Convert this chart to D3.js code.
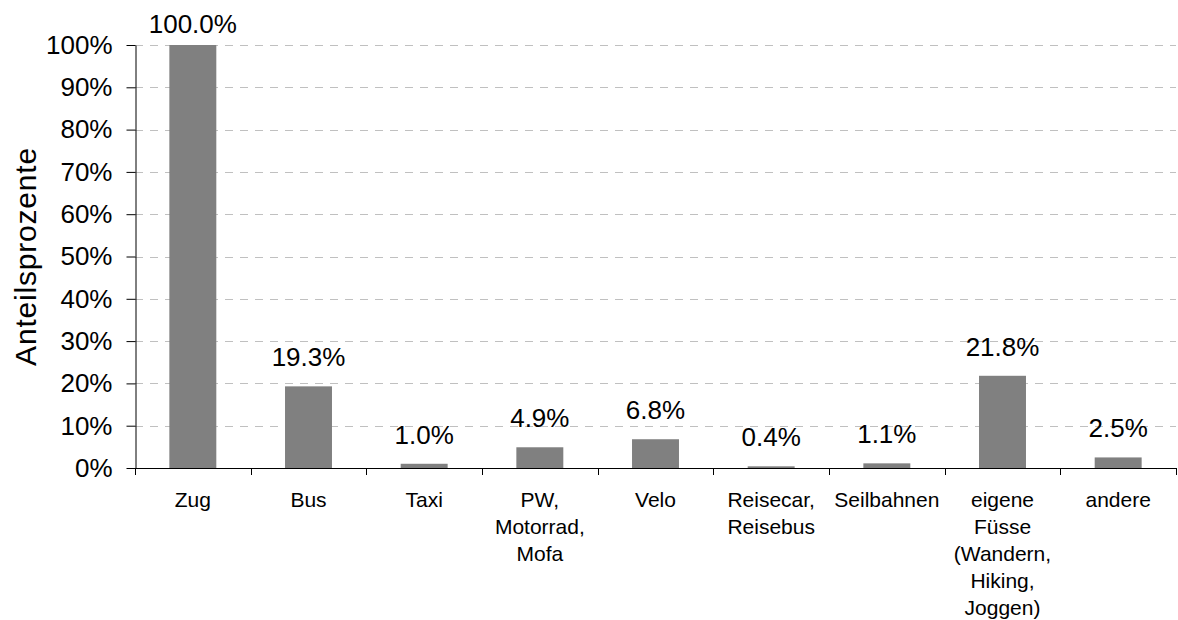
<!DOCTYPE html>
<html>
<head>
<meta charset="utf-8">
<script src="https://cdn.jsdelivr.net/npm/d3@7"></script>
<style>
  body { margin: 0; background: #fff; }
  svg { display: block; font-family: "Liberation Sans", Arial, sans-serif; }
</style>
</head>
<body>
<main></main>
<script>
const categories = [
  ['Zug'],
  ['Bus'],
  ['Taxi'],
  ['PW,', 'Motorrad,', 'Mofa'],
  ['Velo'],
  ['Reisecar,', 'Reisebus'],
  ['Seilbahnen'],
  ['eigene', 'Füsse', '(Wandern,', 'Hiking,', 'Joggen)'],
  ['andere']
];
const values = [100.0, 19.3, 1.0, 4.9, 6.8, 0.4, 1.1, 21.8, 2.5];
const yTicks = [0, 10, 20, 30, 40, 50, 60, 70, 80, 90, 100];
const yTitle = 'Anteilsprozente';

const width = 1178;
const height = 620;
const plotLeft = 135;
const plotRight = 1176;
const plotTop = 45;
const plotBottom = 468;

const keys = categories.map((c, i) => i);

const x = d3.scaleBand()
  .domain(keys)
  .range([plotLeft, plotRight])
  .padding(0)

const xBar = d3.scaleBand()
  .domain(keys)
  .range([plotLeft, plotRight])
  .paddingInner(0.594)
  .paddingOuter(0.297)

const y = d3.scaleLinear()
  .domain([0, 100])
  .range([plotBottom, plotTop])

const svg = d3.select('main')
  .append('svg')
  .attr('width', width)
  .attr('height', height)

// Grid
svg.append('g')
  .selectAll('line')
  .data(yTicks.filter(t => t > 0))
  .enter()
  .append('line')
  .attr('x1', plotLeft)
  .attr('x2', plotRight)
  .attr('y1', d => Math.round(y(d)) + 0.5)
  .attr('y2', d => Math.round(y(d)) + 0.5)
  .style('stroke', '#c0c0c0')
  .style('stroke-width', 1)
  .style('stroke-dasharray', '8,7')

// Bars
svg.append('g')
  .selectAll('rect')
  .data(values)
  .enter()
  .append('rect')
  .attr('x', (d, i) => xBar(i))
  .attr('y', d => y(d))
  .attr('width', xBar.bandwidth())
  .attr('height', d => plotBottom - y(d))
  .style('fill', '#808080')

// Value labels
svg.append('g')
  .selectAll('text')
  .data(values)
  .enter()
  .append('text')
  .attr('x', (d, i) => x(i) + x.bandwidth() / 2)
  .attr('y', d => Math.max(y(d) - 20, 33))
  .attr('text-anchor', 'middle')
  .style('font-size', '26px')
  .style('fill', '#000')
  .text(d => d.toFixed(1) + '%')

// y-axis
const yAxis = d3.axisLeft(y)
  .tickValues(yTicks)
  .tickSize(9)
  .tickSizeOuter(0)
  .tickPadding(14)
  .tickFormat(d => d + '%')

const yg = svg.append('g')
  .attr('transform', `translate(${plotLeft + 0.5}, 0)`)
  .call(yAxis)
yg.selectAll('text')
  .style('font-size', '26px')
  .style('font-family', '"Liberation Sans", Arial, sans-serif')
  .style('fill', '#000')
yg.select('.domain').style('stroke', '#000')
yg.selectAll('line').style('stroke', '#000')

// x-axis
const xg = svg.append('g')

xg.append('line')
  .attr('x1', plotLeft)
  .attr('x2', plotRight)
  .attr('y1', plotBottom + 0.5)
  .attr('y2', plotBottom + 0.5)
  .style('stroke', '#000')

xg.selectAll('.tick')
  .data(keys.map(k => x(k)).concat([plotRight]))
  .enter()
  .append('line')
  .attr('class', 'tick')
  .attr('x1', d => Math.round(d) + 0.5)
  .attr('x2', d => Math.round(d) + 0.5)
  .attr('y1', plotBottom)
  .attr('y2', plotBottom + 7)
  .style('stroke', '#000')

const labels = xg.selectAll('.label')
  .data(categories)
  .enter()
  .append('text')
  .attr('class', 'label')
  .attr('text-anchor', 'middle')
  .style('font-size', '21px')
  .style('fill', '#000')

labels.selectAll('tspan')
  .data((d, i) => d.map(line => ({ line, i })))
  .enter()
  .append('tspan')
  .attr('x', d => x(d.i) + x.bandwidth() / 2)
  .attr('y', (d, j) => plotBottom + 39 + j * 27)
  .text(d => d.line)

// y title
svg.append('text')
  .attr('transform', `translate(36, ${(plotTop + plotBottom) / 2}) rotate(-90)`)
  .attr('text-anchor', 'middle')
  .style('font-size', '30px')
  .style('letter-spacing', '0.8px')
  .style('fill', '#000')
  .text(yTitle)
</script>
</body>
</html>
